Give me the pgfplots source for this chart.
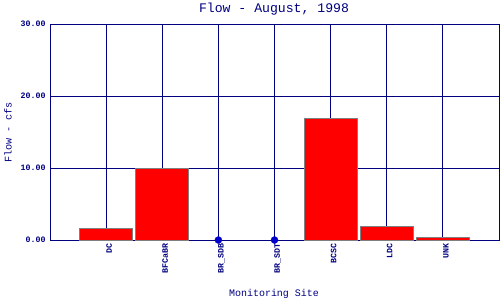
\documentclass[border=0pt]{standalone}
\usepackage{pgfplots}
\pgfplotsset{compat=1.18}
\usepackage{fontspec}
\setmainfont{Liberation Mono}
\definecolor{navy}{RGB}{0,0,128}
\definecolor{dotblue}{RGB}{0,0,205}
\begin{document}
\begin{tikzpicture}[x=1bp,y=1bp]
\useasboundingbox (0,0) rectangle (500,300);
\begin{axis}[at={(50bp,60bp)}, anchor=south west, scale only axis,
  width=449bp, height=216bp,
  xmin=0, xmax=8, ymin=0, ymax=30,
  ytick={0,10,20,30}, xtick={1,...,7},
  xticklabels={DC,BFCaBR,BR\_SDB,BR\_SDT,BCSC,LDC,UNK},
  grid=major, grid style={navy, line width=0.8bp},
  axis line style={navy, line width=0.8bp},
  major tick length=0pt,
  /pgf/number format/assume math mode=true,
  /pgf/number format/.cd, fixed, fixed zerofill, precision=2, /pgfplots/.cd,
  yticklabel style={font=\bfseries\fontsize{8.3}{9}\selectfont, text=navy, xshift=-1bp},
  xticklabel style={font=\bfseries\fontsize{8.3}{9}\selectfont, text=navy, rotate=90, anchor=east, yshift=-3bp},
  clip=false]
\addplot[ybar, bar width=0.94, bar shift=0pt, fill=red, draw=gray, line width=1bp]
  coordinates {(1,1.63) (2,9.98) (5,16.9) (6,1.9) (7,0.4)};
\addplot[only marks, mark=*, mark size=3.5bp, dotblue] coordinates {(3,0) (4,0)};
\end{axis}
\node[text=navy, font=\fontsize{13.2}{15}\selectfont] at (274,291) {Flow - August, 1998};
\node[text=navy, font=\fontsize{10.2}{12}\selectfont, rotate=90] at (8,167.5) {Flow - cfs};
\node[text=navy, font=\fontsize{10}{12}\selectfont] at (274,6.5) {Monitoring Site};
\end{tikzpicture}
\end{document}
